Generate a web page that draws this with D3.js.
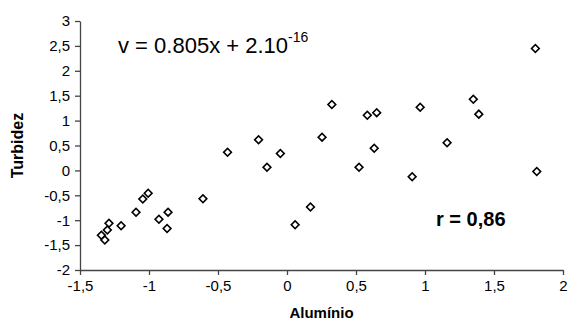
<!DOCTYPE html>
<html>
<head>
<meta charset="utf-8">
<script src="https://cdn.jsdelivr.net/npm/d3@7"></script>
<style>
  body { margin: 0; background: #fff; }
  svg { display: block; font-family: Arial, "Liberation Sans", sans-serif; }
</style>
</head>
<body>
<svg id="chart" width="569" height="322"></svg>
<script>
// Alumínio (x) vs Turbidez (y)
var aluminio = [1.80, 1.81, 1.35, 1.39, 1.16, 0.965, 0.907, 0.65, 0.582, 0.632, 0.522,
  0.325, 0.254, 0.17, 0.059, -0.048, -0.145, -0.206, -0.431, -0.609,
  -0.862, -0.869, -0.928, -1.006, -1.045, -1.094, -1.202, -1.29, -1.302, -1.345, -1.32];
var turbidez = [2.45, -0.02, 1.43, 1.13, 0.555, 1.27, -0.127, 1.16, 1.106, 0.446, 0.062,
  1.322, 0.668, -0.733, -1.09, 0.338, 0.062, 0.615, 0.365, -0.571,
  -0.838, -1.167, -0.98, -0.458, -0.572, -0.841, -1.113, -1.06, -1.197, -1.302, -1.399];
var xTicks = [-1.5, -1, -0.5, 0, 0.5, 1, 1.5, 2];
var yTicks = [-2, -1.5, -1, -0.5, 0, 0.5, 1, 1.5, 2, 2.5, 3];

var svg = d3.select("#chart");
var mLeft = 80, mRight = 563, mTop = 21, mBottom = 270;

var x = d3.scaleLinear().domain([-1.5, 2]).range([mLeft, mRight]);
var y = d3.scaleLinear().domain([-2, 3]).range([mBottom, mTop]);

var loc = d3.formatLocale({decimal: ",", thousands: ".", grouping: [3], currency: ["", ""], minus: "-"});
var fmt = loc.format("~g");

var axisColor = "#444";

var gx = svg.append("g")
  .attr("transform", "translate(0," + mBottom + ")")
  .call(d3.axisBottom(x).tickValues(xTicks).tickFormat(fmt).tickSize(5).tickSizeOuter(0).tickPadding(5));
var gy = svg.append("g")
  .attr("transform", "translate(" + mLeft + ",0)")
  .call(d3.axisLeft(y).tickValues(yTicks).tickFormat(fmt).tickSize(5).tickSizeOuter(0).tickPadding(5));

[gx, gy].forEach(function (g) {
  g.select(".domain").attr("stroke", axisColor).attr("stroke-width", 1.3);
  g.selectAll(".tick line").attr("stroke", axisColor).attr("stroke-width", 1.3);
  g.selectAll(".tick text").attr("fill", "#000").style("font-size", "15px")
    .style("font-family", "Arial, 'Liberation Sans', sans-serif");
});

// diamonds
var diamond = d3.symbol().type(d3.symbolSquare).size(30);
svg.append("g").selectAll("path")
  .data(aluminio)
  .enter()
  .append("path")
  .attr("d", diamond)
  .attr("transform", function (d, i) {
    return "translate(" + x(d) + "," + y(turbidez[i]) + ") rotate(45)";
  })
  .attr("fill", "#fff")
  .attr("stroke", "#000")
  .attr("stroke-width", 1.6);

// axis titles
svg.append("text")
  .attr("x", (mLeft + mRight) / 2)
  .attr("y", 318)
  .attr("text-anchor", "middle")
  .style("font-size", "15px")
  .style("font-weight", "bold")
  .text("Alumínio");

svg.append("text")
  .attr("transform", "translate(23," + (mTop + mBottom) / 2 + ") rotate(-90)")
  .attr("text-anchor", "middle")
  .style("font-size", "16px")
  .style("font-weight", "bold")
  .text("Turbidez");

// equation
var eq = svg.append("text")
  .attr("x", 118)
  .attr("y", 53)
  .style("font-size", "22px");
eq.append("tspan").text("v = 0.805x + 2.10");
eq.append("tspan").attr("dy", -11).style("font-size", "14px").text("-16");

svg.append("text")
  .attr("x", 436)
  .attr("y", 226)
  .style("font-size", "20px")
  .style("font-weight", "bold")
  .text("r = 0,86");
</script>
</body>
</html>
